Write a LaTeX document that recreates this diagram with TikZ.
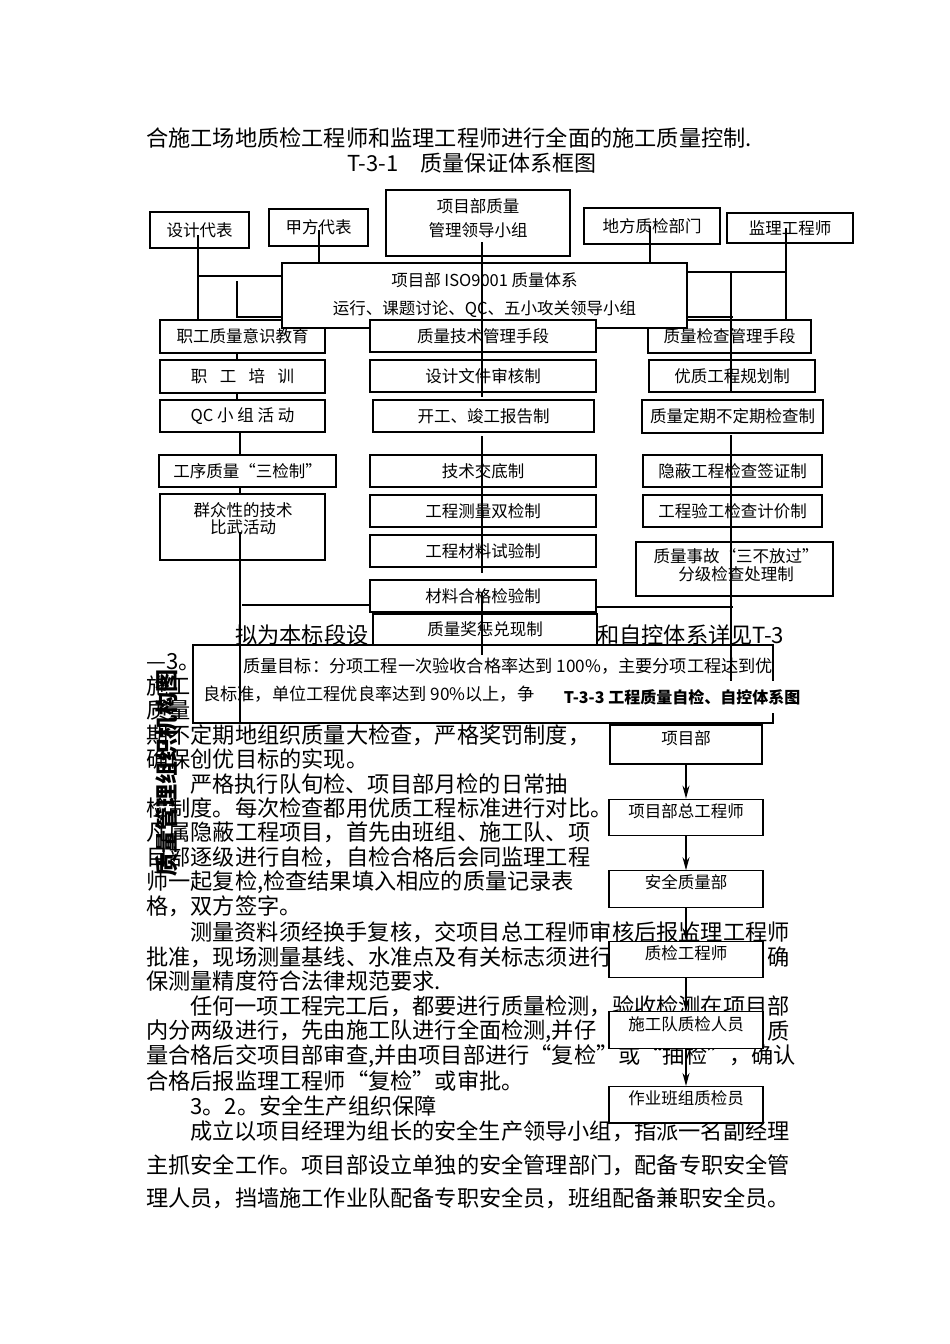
\documentclass[tikz,border=0pt]{standalone}
\usepackage{fontspec}
\setmainfont{Noto Sans CJK SC}
\usetikzlibrary{positioning, arrows.meta}

\newcommand\bodyfont{\fontsize{22.2pt}{27pt}\selectfont}
\newcommand\boxfont{\fontsize{16.5pt}{17.5pt}\selectfont}
\newcommand\isofont{\fontsize{16.5pt}{28pt}\selectfont}
\newcommand\aimfont{\fontsize{17.2pt}{20pt}\selectfont}
\newcommand\labelfont{\bfseries\fontsize{16pt}{18pt}\selectfont}
\newcommand\vertfont{\bfseries\fontsize{23pt}{24pt}\selectfont}

\tikzset{
  box/.style={draw, fill=white, line width=1.1pt, inner sep=0pt, font=\boxfont, align=center},
  wh/.style 2 args={minimum width=#1pt, minimum height=#2pt},
  txt/.style={inner sep=0pt, font=\bodyfont, anchor=west},
  boxtext/.style={inner sep=0pt, font=\boxfont, align=center},
  link/.style={line width=1.1pt},
  flowbox/.style={box, wh={154}{36.5}, text height=12pt, text depth=12pt},
  flowarrow/.style={-{Stealth[length=13pt,width=7pt]}, line width=1.1pt},
}

\begin{document}
\begin{tikzpicture}[x=1pt, y=-1pt]
\fill[white] (0,0) rectangle (950,1344);
\useasboundingbox (0,0) rectangle (950,1344);

% running text of the page
\node[txt] (p0) at (146,138) {合施工场地质检工程师和监理工程师进行全面的施工质量控制.};
\node[txt, font=\fontsize{22pt}{26pt}\selectfont] (title) at (347,163) {T-3-1\hspace{22pt}质量保证体系框图};
\node[txt] (p1) at (235,635) {拟为本标段设};
\node[txt] (p1b) at (597,635) {和自控体系详见T-3};
\node[txt] (p2) at (146,662) {—3。};
\node[txt] (p3) at (146,686) {施工};
\node[txt] (p4) at (146,710) {质量};
\node[txt] (p5) at (146,735) {期不定期地组织质量大检查，严格奖罚制度，};
\node[txt] (p6) at (146,759) {确保创优目标的实现。};
\node[txt] (p7) at (190,784) {严格执行队旬检、项目部月检的日常抽};
\node[txt] (p8) at (146,808) {检制度。每次检查都用优质工程标准进行对比。};
\node[txt] (p9) at (146,832) {凡属隐蔽工程项目，首先由班组、施工队、项};
\node[txt] (p10) at (146,857) {目部逐级进行自检，自检合格后会同监理工程};
\node[txt] (p11) at (146,882) {师一起复检,检查结果填入相应的质量记录表};
\node[txt] (p12) at (146,906) {格，双方签字。};
\node[txt] (p13) at (190,932) {测量资料须经换手复核，交项目总工程师审核后报监理工程师};
\node[txt] (p14) at (146,957) {批准，现场测量基线、水准点及有关标志须进行};
\node[txt, anchor=east] (p14b) at (790,957) {确};
\node[txt] (p15) at (146,981) {保测量精度符合法律规范要求.};
\node[txt] (p16) at (190,1006) {任何一项工程完工后，都要进行质量检测，验收检测在项目部};
\node[txt] (p17) at (146,1031) {内分两级进行，先由施工队进行全面检测,并仔};
\node[txt, anchor=east] (p17b) at (790,1031) {质};
\node[txt] (p18) at (146,1056) {量合格后交项目部审查,并由项目部进行“复检”或“抽检”，确认};
\node[txt] (p19) at (146,1081) {合格后报监理工程师“复检”或审批。};
\node[txt] (p20) at (190,1106) {3。2。安全生产组织保障};
\node[txt] (p21) at (190,1131) {成立以项目经理为组长的安全生产领导小组，指派一名副经理};
\node[txt] (p22) at (146,1165) {主抓安全工作。项目部设立单独的安全管理部门，配备专职安全管};
\node[txt] (p23) at (146,1198) {理人员，挡墙施工作业队配备专职安全员，班组配备兼职安全员。};
\node[font=\vertfont, rotate=90, inner sep=0pt] (jgt) at (167,773) {质量管理组织机构图};

% T-3-1 frame chart
\node[box, wh={99}{36}] (sjdb) at (199.5,230) {设计代表};
\node[box, wh={99}{37}] (jfdb) at (318.5,227.5) {甲方代表};
\node[box, wh={184}{66}] (xmzl) at (478,223) {};
\node[boxtext] (xmzlText) at (478,218) {项目部质量\\[6.5pt]管理领导小组};
\node[box, wh={136}{36}] (dfzj) at (652,226) {地方质检部门};
\node[box, wh={126}{30}] (jlgc) at (790,228) {监理工程师};

\node[box, wh={165}{33}] (zgys) at (242.5,336.5) {职工质量意识教育};
\node[box, wh={165}{33}] (zgpx) at (242.5,376.5) {职\hspace{0.75em}工\hspace{0.75em}培\hspace{0.75em}训};
\node[box, wh={165}{32}] (qcxz) at (242.5,416) {QC 小 组 活 动};
\node[box, wh={177}{32}] (gxzl) at (247.5,471) {工序质量“三检制”};
\node[box, wh={165}{66}] (qzx) at (242.5,527) {};
\node[boxtext] (qzxText) at (243,518.5) {群众性的技术\\比武活动};

\node[box, wh={163}{33}] (zljcgl) at (729.5,336.5) {质量检查管理手段};
\node[box, wh={166}{32}] (yzgc) at (732,376) {优质工程规划制};
\node[box, wh={181}{33}] (zldq) at (732.5,416.5) {质量定期不定期检查制};
\node[box, wh={179}{32}] (ybgc) at (732.5,471) {隐蔽工程检查签证制};
\node[box, wh={179}{32}] (gcyg) at (732.5,511) {工程验工检查计价制};
\node[box, wh={197}{54}] (zlsg) at (734.5,569) {};
\node[boxtext] (zlsgText) at (736,565) {质量事故“三不放过”\\分级检查处理制};

\node[box, wh={405}{65}, font=\isofont] (iso) at (484.5,295.5) {项目部 ISO9001 质量体系\\运行、课题讨论、QC、五小攻关领导小组};

\node[box, wh={226}{32}] (zljs) at (483,336) {质量技术管理手段};
\node[box, wh={226}{32}] (sjwj) at (483,376) {设计文件审核制};
\node[box, wh={221}{32}] (kgjg) at (483.5,416) {开工、竣工报告制};
\node[box, wh={226}{32}] (jsjd) at (483,471) {技术交底制};
\node[box, wh={226}{32}] (gccl) at (483,511) {工程测量双检制};
\node[box, wh={226}{32}] (gcsy) at (483,551) {工程材料试验制};
\node[box, wh={226}{32}] (clhg) at (483,596) {材料合格检验制};
\node[box, wh={224}{31}] (zljc) at (485,629.5) {质量奖惩兑现制};

\node[box, wh={580}{78}] (mubiao) at (483,684) {};
\node[txt, font=\aimfont] (mbA) at (243,666) {质量目标：分项工程一次验收合格率达到 100\%，主要分项工程达到优};
\node[txt, font=\aimfont] (mbB) at (203,694) {良标准，单位工程优良率达到 90\%以上，争};

\coordinate (sjIn) at (198,235);
\coordinate (sjJoin) at (198,276);
\coordinate (jfIn) at (319,230);
\coordinate (lTop) at (237,281);
\coordinate (lBend) at (237,317);
\coordinate (lLong) at (240,532);
\coordinate (lEnd) at (240,723);
\coordinate (lLow) at (242,605);
\coordinate (cTop) at (482,242);
\coordinate (cA) at (482,397);
\coordinate (cB) at (482,436);
\coordinate (cC) at (482,573);
\coordinate (cD) at (482,593);
\coordinate (cEnd) at (482,655);
\coordinate (dfIn) at (650,226);
\coordinate (jlIn) at (786,228);
\coordinate (rJoin) at (786,272);
\coordinate (rTop) at (731,272);
\coordinate (rA) at (731,393);
\coordinate (rB) at (731,435);
\coordinate (rEnd) at (731,690);
\coordinate (rBend) at (733,317);
\coordinate (rLow) at (733,607);

\draw[link] (sjIn) -- (sjIn |- zgys.north);
\draw[link] (sjJoin) -- (sjJoin -| iso.west);
\draw[link] (jfIn) -- (jfIn |- iso.north);
\draw[link] (lTop) -- (lBend) -- (lBend -| iso.west);
\draw[link] (zgys.south -| lTop) -- (zgpx.north -| lTop)
            (zgpx.south -| lTop) -- (qcxz.north -| lTop)
            (qcxz.south -| lLong) -- (gxzl.north -| lLong)
            (gxzl.south -| lLong) -- (qzx.north -| lLong);
\draw[link] (lLong) -- (lEnd);
\draw[link] (lLow) -- (lLow -| clhg.west);
\draw[link] (cTop) -- (cA) (cB) -- (cC) (cD) -- (cEnd);
\draw[link] (dfIn) -- (dfIn |- iso.north);
\draw[link] (jlIn) -- (jlIn |- zljcgl.north);
\draw[link] (rJoin -| iso.east) -- (rJoin);
\draw[link] (rBend -| iso.east) -- (rBend);
\draw[link] (rTop) -- (rA) (rB) -- (rEnd);
\draw[link] (rLow -| clhg.east) -- (rLow);

% T-3-3 self check chart
\node[fill=white, inner sep=0pt, wh={272}{32}, font=\labelfont] (t33) at (682,697) {T-3-3 工程质量自检、自控体系图};

\node[flowbox, wh={152}{39}] (xmb) at (686,744.5) {项目部};
\node[flowbox, below=34pt of xmb] (zgcs) {项目部总工程师};
\node[flowbox, below=34pt of zgcs] (aqzl) {安全质量部};
\node[flowbox, below=33pt of aqzl] (zjgc) {质检工程师};
\node[flowbox, below=33pt of zjgc] (sgd) {施工队质检人员};
\node[flowbox, below=37pt of sgd] (zybz) {作业班组质检员};

\path[flowarrow]
(xmb) edge (zgcs)
(zgcs) edge (aqzl)
(aqzl) edge (zjgc)
(zjgc) edge (sgd)
(sgd) edge (zybz);
\end{tikzpicture}
\end{document}
